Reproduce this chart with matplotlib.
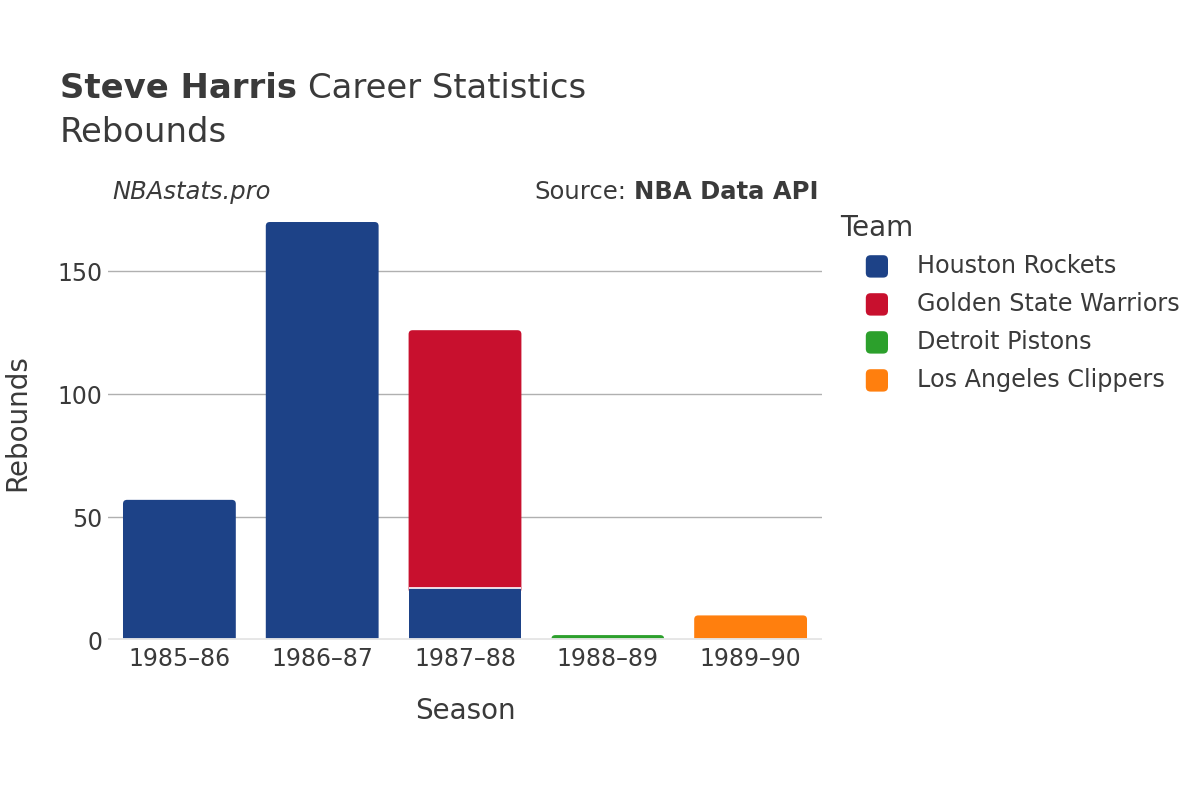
import matplotlib
matplotlib.use('Agg')
import matplotlib.pyplot as plt
from matplotlib.patches import FancyBboxPatch
import numpy as np

# Данные
seasons = ['1985–86', '1986–87', '1987–88', '1988–89', '1989–90']
teams = ['Houston Rockets', 'Golden State Warriors', 'Detroit Pistons', 'Los Angeles Clippers']
colors = ['#1d4287', '#c8102e', '#2ca02c', '#ff7f0e']
rebounds = {
    'Houston Rockets': [57, 170, 21, 0, 0],
    'Golden State Warriors': [0, 0, 105, 0, 0],
    'Detroit Pistons': [0, 0, 0, 2, 0],
    'Los Angeles Clippers': [0, 0, 0, 0, 10],
}
yticks = [0, 50, 100, 150]

text_color = '#3a3a3a'
plt.rcParams['font.family'] = ['DejaVu Sans']

W, H = 12, 8
fig = plt.figure(figsize=(W, H), dpi=100)
ax_pos = [0.09, 0.2, 0.595, 0.544]
ax = fig.add_axes(ax_pos)
ymax = 177
ax.set_xlim(-0.5, 4.5)
ax.set_ylim(0, ymax)

# Скругление верхних углов (~4 px)
px_x = ax_pos[2] * W * 100 / 5.0
px_y = ax_pos[3] * H * 100 / ymax
r = 4.0 / px_x
aspect = px_x / px_y
width = 0.79

x = np.arange(len(seasons))
bottom = np.zeros(len(seasons))
tops = np.zeros(len(seasons))
for team in teams:
    tops += np.array(rebounds[team], dtype=float)

z = 3
for team, color in zip(teams, colors):
    vals = np.array(rebounds[team], dtype=float)
    for i in range(len(seasons)):
        if vals[i] <= 0:
            continue
        b, t = bottom[i], bottom[i] + vals[i]
        if t >= tops[i]:
            # верхний сегмент: скруглённый, продлён вниз под нижний
            ext = r * aspect * 1.2
            p = FancyBboxPatch((x[i] - width / 2, b - ext), width, vals[i] + ext,
                               boxstyle=f'round,pad=0,rounding_size={r}',
                               mutation_aspect=aspect, facecolor=color,
                               edgecolor='none', zorder=2.5)
            ax.add_patch(p)
        else:
            ax.bar(x[i], vals[i], bottom=b, width=width, color=color,
                   edgecolor='none', zorder=z)
            ax.plot([x[i] - width / 2, x[i] + width / 2], [t, t], color='white',
                    linewidth=1.2, zorder=z + 0.1, solid_capstyle='butt')
    bottom += vals

ax.set_xticks(x)
ax.set_xticklabels(seasons)
ax.set_yticks(yticks)
ax.tick_params(axis='both', length=0, labelsize=17, colors=text_color)
ax.tick_params(axis='x', pad=5)
ax.tick_params(axis='y', pad=4)
for s in ax.spines.values():
    s.set_visible(False)
ax.grid(axis='y', color='#b0b0b0', linewidth=1, zorder=0)
ax.axhline(0, color='#e6e6e6', linewidth=3.5, zorder=4)

ax.set_xlabel('Season', fontsize=20, color=text_color, labelpad=19)
ax.set_ylabel('Rebounds', fontsize=20, color=text_color, labelpad=19)

# Заголовки
renderer = fig.canvas.get_renderer()
t1 = fig.text(0.05, 0.889, 'Steve Harris', fontsize=24.4, fontweight='bold', color=text_color, va='center')
bb = t1.get_window_extent(renderer)
fig.text(bb.x1 / (W * 100) + 0.009, 0.889, 'Career Statistics', fontsize=24.4, color=text_color, va='center')
fig.text(0.05, 0.834, 'Rebounds', fontsize=24.4, color=text_color, va='center')

fig.text(0.094, 0.76, 'NBAstats.pro', fontsize=17.5, style='italic', color=text_color, va='center')
t2 = fig.text(0.682, 0.76, 'NBA Data API', fontsize=17.5, fontweight='bold', color=text_color,
              va='center', ha='right')
bb = t2.get_window_extent(renderer)
fig.text(bb.x0 / (W * 100) - 0.006, 0.76, 'Source:', fontsize=17.5, color=text_color,
         va='center', ha='right')

# Легенда
fig.text(0.7, 0.715, 'Team', fontsize=20, color=text_color, va='center')
for i, (team, color) in enumerate(zip(teams, colors)):
    yc = 0.667 - i * 0.0475
    fig.patches.append(FancyBboxPatch((0.7215, yc - 0.014), 0.0185, 0.028,
                                      boxstyle='round,pad=0,rounding_size=0.004',
                                      mutation_aspect=1.5,
                                      transform=fig.transFigure, facecolor=color,
                                      edgecolor='none'))
    fig.text(0.764, yc, team, fontsize=17.2, color=text_color, va='center')

fig.savefig('out.png', dpi=100, facecolor='white')
